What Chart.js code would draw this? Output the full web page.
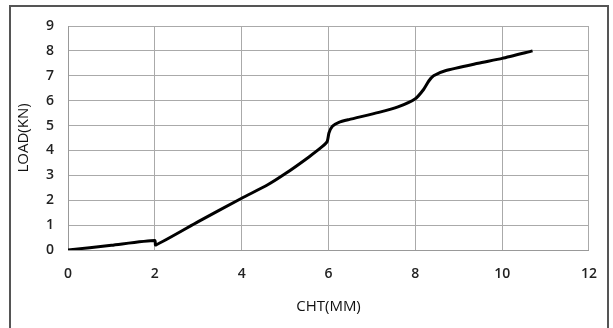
<!DOCTYPE html>
<html>
<head>
<meta charset="utf-8">
<script src="https://cdn.jsdelivr.net/npm/chart.js@4/dist/chart.umd.min.js"></script>
<style>
  html, body { margin: 0; padding: 0; background: #fff; }
  #wrap { position: relative; width: 613px; height: 328px; }
  #frame {
    position: absolute; left: 9px; top: 5px; width: 600px; height: 330px;
    border: 2px solid #555; box-sizing: border-box;
  }
  canvas { position: absolute; left: 0; top: 0; }
</style>
</head>
<body>
<div id="wrap">
  <canvas id="loadChart" width="613" height="328"></canvas>
  <div id="frame"></div>
</div>
<script>
// deflection (mm) vs load (kN)
const cht = [0, 1, 2, 2.02, 3, 4, 4.6, 5.0, 5.55, 5.86, 5.97, 6.01, 6.09, 6.24, 6.47, 7.16, 7.6, 8.0, 8.19, 8.31, 8.42, 8.69, 9.45, 10, 10.7];
const load = [0, 0.19, 0.38, 0.2, 1.14, 2.08, 2.62, 3.06, 3.74, 4.16, 4.36, 4.7, 4.97, 5.13, 5.24, 5.53, 5.75, 6.08, 6.45, 6.79, 7.0, 7.2, 7.5, 7.7, 8.0];

const xTicks = [0, 2, 4, 6, 8, 10, 12];
const yTicks = [0, 1, 2, 3, 4, 5, 6, 7, 8, 9];

const points = cht.map((x, i) => ({ x: x, y: load[i] }));

const ctx = document.getElementById('loadChart').getContext('2d');
const chart = new Chart(ctx, {
    type: 'line',
    data: {
        datasets: [{
            data: points,
            borderColor: '#000',
            borderWidth: 3,
            pointRadius: 0,
            tension: 0.2,
            fill: false
        }]
    },
    options: {
        responsive: false,
        animation: false,
        layout: { padding: { left: 0, right: 22, top: 26, bottom: 0 } },
        plugins: { legend: { display: false }, tooltip: { enabled: false } },
        scales: {
            x: {
                type: 'linear',
                min: xTicks[0],
                max: xTicks[xTicks.length - 1],
                afterBuildTicks: s => { s.ticks = xTicks.map(v => ({ value: v })); },
                afterFit: s => { s.height = 78; },
                grid: { color: '#aaa', drawTicks: false },
                border: { color: '#999' },
                ticks: { padding: 16, color: '#222', font: { family: 'Open Sans', size: 14, weight: '600' } },
                title: {
                    display: true, text: 'CHT(MM)', color: '#111',
                    font: { family: 'Open Sans', size: 15 },
                    padding: { top: 12, bottom: 12 }
                }
            },
            y: {
                min: yTicks[0],
                max: yTicks[yTicks.length - 1],
                afterBuildTicks: s => { s.ticks = yTicks.map(v => ({ value: v })); },
                afterFit: s => { s.width = 68; },
                grid: { color: '#aaa', drawTicks: false },
                border: { color: '#999' },
                ticks: { padding: 14, color: '#222', font: { family: 'Open Sans', size: 14, weight: '600' } },
                title: {
                    display: true, text: 'LOAD(KN)', color: '#111',
                    font: { family: 'Open Sans', size: 15 },
                    padding: { top: 15, bottom: 0 }
                }
            }
        }
    }
});
</script>
</body>
</html>
